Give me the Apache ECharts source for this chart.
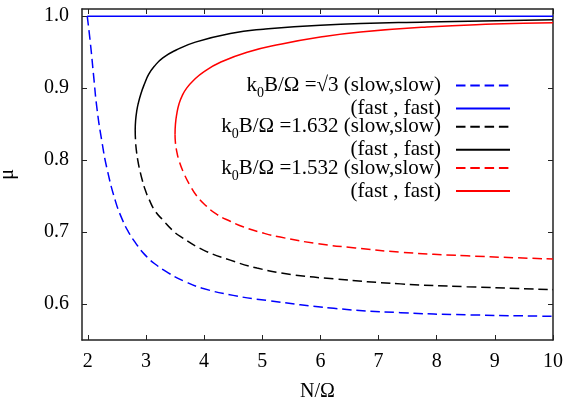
<!DOCTYPE html>
<html>
<head>
<meta charset="utf-8">
<script src="https://cdn.jsdelivr.net/npm/echarts@6/dist/echarts.min.js"></script>
<style>html,body{margin:0;padding:0;background:#fff}#c{width:567px;height:401px}</style>
</head>
<body>
<div id="c"></div>
<script>
var xTicks = [2, 3, 4, 5, 6, 7, 8, 9, 10];
var yTicks = [0.6, 0.7, 0.8, 0.9, 1.0];

var blueSlowX = [1.99, 2.045, 2.10, 2.16, 2.246, 2.33, 2.475, 2.59, 2.70, 2.82, 2.975, 3.15, 3.39, 3.65, 3.97, 4.50, 5.08, 6.23, 7.38, 8.52, 10];
var blueSlowY = [1.0, 0.962, 0.917, 0.870, 0.824, 0.788, 0.743, 0.718, 0.700, 0.685, 0.669, 0.656, 0.643, 0.632, 0.622, 0.612, 0.605, 0.594, 0.588, 0.585, 0.583];
var blueFastX = [1.99, 10];
var blueFastY = [1.0, 1.0];

var blackSlowX = [2.815, 2.82, 2.833, 2.859, 2.891, 2.937, 2.99, 3.05, 3.16, 3.30, 3.45, 3.59, 3.99, 4.45, 4.91, 5.50, 6.23, 7.38, 8.52, 10];
var blackSlowY = [0.842, 0.828, 0.815, 0.800, 0.787, 0.772, 0.758, 0.746, 0.729, 0.716, 0.703, 0.694, 0.675, 0.661, 0.650, 0.641, 0.635, 0.628, 0.624, 0.620];
var blackFastX = [2.815, 2.822, 2.841, 2.868, 2.912, 2.97, 3.046, 3.14, 3.29, 3.52, 3.85, 4.45, 5.02, 6.00, 7.83, 10];
var blackFastY = [0.842, 0.855, 0.868, 0.879, 0.892, 0.905, 0.919, 0.930, 0.942, 0.953, 0.964, 0.976, 0.982, 0.9875, 0.992, 0.995];

var redSlowX = [3.50, 3.506, 3.525, 3.566, 3.65, 3.757, 3.886, 4.04, 4.22, 4.45, 4.68, 5.00, 5.31, 5.94, 6.60, 7.38, 8.52, 10];
var redSlowY = [0.836, 0.825, 0.814, 0.800, 0.782, 0.765, 0.749, 0.736, 0.7245, 0.715, 0.707, 0.699, 0.693, 0.684, 0.678, 0.672, 0.667, 0.6625];
var redFastX = [3.50, 3.507, 3.532, 3.568, 3.62, 3.70, 3.82, 4.00, 4.28, 4.74, 5.31, 6.00, 6.69, 7.83, 8.98, 10];
var redFastY = [0.836, 0.850, 0.865, 0.878, 0.889, 0.900, 0.911, 0.923, 0.936, 0.950, 0.961, 0.971, 0.978, 0.985, 0.989, 0.991];

var legendLabels = {
  blueSlow: '{k|k}{s|0}{t|B/Ω =√3 (slow,slow)}',
  blueFast: '{t|(fast , fast)}',
  blackSlow: '{k|k}{s|0}{t|B/Ω =1.632 (slow,slow)}',
  blackFast: '{t|(fast , fast)}',
  redSlow: '{k|k}{s|0}{t|B/Ω =1.532 (slow,slow)}',
  redFast: '{t|(fast , fast)}'
};

function zip(xs, ys) { return xs.map(function (x, i) { return [x, ys[i]]; }); }

var FONT = 'Liberation Serif';
var FS = 20;
var LFS = 21;
var chart = echarts.init(document.getElementById('c'), null, { renderer: 'canvas' });

function mk(name, xs, ys, color, dashed) {
  return {
    name: name, type: 'line', data: zip(xs, ys), showSymbol: false, symbol: 'none',
    smooth: 0.5, xAxisIndex: 0, yAxisIndex: 0, animation: false,
    lineStyle: { color: color, width: 1.5, type: dashed ? [9.5, 4.8] : 'solid' },
    itemStyle: { color: color }
  };
}

var axisCommon = {
  axisLine: { show: true, lineStyle: { color: '#222', width: 1.5 } },
  axisTick: { show: true, inside: true, length: 5, lineStyle: { color: '#222', width: 1 } },
  splitLine: { show: false }
};

chart.setOption({
  backgroundColor: '#fff',
  animation: false,
  grid: { left: 82, right: 14, top: 9, bottom: 61, show: false, containLabel: false, outerBoundsMode: 'none' },
  xAxis: [
    Object.assign({}, axisCommon, {
      type: 'value', min: 1.9, max: 10, position: 'bottom',
      axisTick: Object.assign({}, axisCommon.axisTick, { customValues: xTicks }),
      axisLabel: { customValues: xTicks, color: '#000', fontFamily: FONT, fontSize: FS, margin: 12,
        formatter: function (v) { return String(v); } },
      name: 'N/Ω', nameLocation: 'middle', nameGap: 42,
      nameTextStyle: { color: '#000', fontFamily: FONT, fontSize: FS }
    }),
    Object.assign({}, axisCommon, {
      type: 'value', min: 1.9, max: 10, position: 'top',
      axisTick: Object.assign({}, axisCommon.axisTick, { customValues: xTicks }),
      axisLabel: { show: false }
    })
  ],
  yAxis: [
    Object.assign({}, axisCommon, {
      type: 'value', min: 0.55, max: 1.01, position: 'left',
      axisTick: Object.assign({}, axisCommon.axisTick, { customValues: yTicks }),
      axisLabel: { customValues: yTicks, color: '#000', fontFamily: FONT, fontSize: FS, margin: 13,
        formatter: function (v) { return v.toFixed(1); } },
      name: 'μ', nameLocation: 'middle', nameGap: 64, nameRotate: 90,
      nameTextStyle: { color: '#000', fontFamily: FONT, fontSize: FS }
    }),
    Object.assign({}, axisCommon, {
      type: 'value', min: 0.55, max: 1.01, position: 'right',
      axisTick: Object.assign({}, axisCommon.axisTick, { customValues: yTicks }),
      axisLabel: { show: false }
    })
  ],
  legend: {
    orient: 'vertical', align: 'right', right: 51, top: 70,
    itemWidth: 54, itemHeight: 14, itemGap: -2.6,
    data: ['blueSlow', 'blueFast', 'blackSlow', 'blackFast', 'redSlow', 'redFast'],
    formatter: function (n) { return legendLabels[n]; },
    itemStyle: { opacity: 0 },
    textStyle: {
      color: '#000', fontFamily: FONT, fontSize: LFS, padding: [0, 10, 0, 0],
      rich: {
        k: { fontFamily: FONT, fontSize: LFS, color: '#000', lineHeight: 20, verticalAlign: 'middle' },
        s: { fontFamily: FONT, fontSize: 14, color: '#000', lineHeight: 20, verticalAlign: 'bottom', padding: [0, 0, -5, 0] },
        t: { fontFamily: FONT, fontSize: LFS, color: '#000', lineHeight: 20, verticalAlign: 'middle' }
      }
    },
    selectedMode: false
  },
  series: [
    mk('blueSlow', blueSlowX, blueSlowY, '#0000ff', true),
    mk('blueFast', blueFastX, blueFastY, '#0000ff', false),
    mk('blackSlow', blackSlowX, blackSlowY, '#000000', true),
    mk('blackFast', blackFastX, blackFastY, '#000000', false),
    mk('redSlow', redSlowX, redSlowY, '#ff0000', true),
    mk('redFast', redFastX, redFastY, '#ff0000', false)
  ]
});
</script>
</body>
</html>
